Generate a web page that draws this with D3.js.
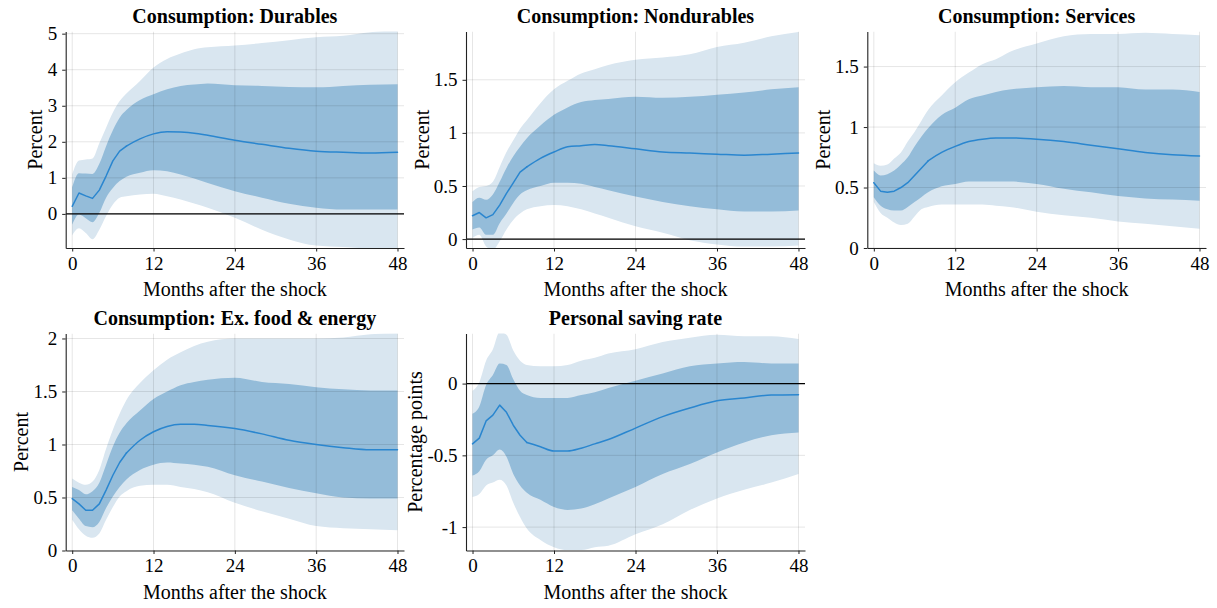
<!DOCTYPE html>
<html>
<head>
<meta charset="utf-8">
<script src="https://cdn.jsdelivr.net/npm/d3@7"></script>
<style>
  body { margin: 0; background: #fff; }
  svg text { font-family: "Liberation Serif", "DejaVu Serif", serif !important; fill: #000; }
</style>
</head>
<body>
<script>
var months = [0, 1, 2, 3, 4, 5, 6, 7, 8, 10, 12, 14, 16, 18, 20, 24, 28, 32, 36, 40, 44, 48];
var xTicks = [0, 12, 24, 36, 48];

// Consumption: Durables
var durMed = [0.21, 0.58, 0.50, 0.43, 0.66, 1.05, 1.47, 1.74, 1.88, 2.08, 2.22, 2.28, 2.27, 2.24, 2.18, 2.04, 1.93, 1.82, 1.74, 1.71, 1.69, 1.71];
var durHi1 = [0.74, 1.13, 1.12, 1.11, 1.39, 1.88, 2.32, 2.67, 2.88, 3.16, 3.32, 3.46, 3.55, 3.59, 3.62, 3.57, 3.55, 3.52, 3.51, 3.55, 3.58, 3.60];
var durLo1 = [-0.30, -0.02, -0.12, -0.23, 0.03, 0.45, 0.72, 0.91, 1.03, 1.14, 1.21, 1.18, 1.09, 0.98, 0.86, 0.63, 0.45, 0.28, 0.17, 0.12, 0.12, 0.12];
var durHi2 = [1.09, 1.48, 1.51, 1.54, 1.96, 2.39, 2.81, 3.13, 3.34, 3.69, 4.06, 4.30, 4.45, 4.57, 4.62, 4.67, 4.74, 4.82, 4.90, 4.94, 5.04, 5.10];
var durLo2 = [-0.60, -0.40, -0.53, -0.70, -0.44, -0.06, 0.26, 0.45, 0.49, 0.54, 0.56, 0.49, 0.40, 0.29, 0.17, -0.11, -0.44, -0.71, -0.88, -0.92, -0.96, -0.97];

// Consumption: Nondurables
var ndMed = [0.22, 0.25, 0.20, 0.23, 0.32, 0.43, 0.53, 0.63, 0.68, 0.76, 0.82, 0.87, 0.88, 0.89, 0.88, 0.85, 0.82, 0.81, 0.80, 0.79, 0.80, 0.81];
var ndHi1 = [0.35, 0.39, 0.37, 0.42, 0.54, 0.67, 0.78, 0.87, 0.95, 1.07, 1.17, 1.24, 1.29, 1.31, 1.32, 1.34, 1.33, 1.34, 1.36, 1.38, 1.41, 1.43];
var ndLo1 = [0.09, 0.11, 0.04, 0.04, 0.15, 0.24, 0.34, 0.42, 0.46, 0.50, 0.53, 0.53, 0.52, 0.49, 0.46, 0.40, 0.35, 0.31, 0.28, 0.26, 0.26, 0.27];
var ndHi2 = [0.45, 0.49, 0.50, 0.54, 0.68, 0.82, 0.93, 1.04, 1.12, 1.28, 1.41, 1.49, 1.56, 1.60, 1.64, 1.69, 1.71, 1.74, 1.81, 1.85, 1.91, 1.95];
var ndLo2 = [0.01, 0.04, -0.07, -0.10, -0.02, 0.09, 0.18, 0.24, 0.28, 0.31, 0.32, 0.31, 0.28, 0.24, 0.20, 0.12, 0.06, -0.01, -0.05, -0.07, -0.07, -0.06];

// Consumption: Services
var svMed = [0.54, 0.47, 0.46, 0.47, 0.50, 0.54, 0.60, 0.66, 0.72, 0.79, 0.84, 0.88, 0.90, 0.91, 0.91, 0.90, 0.88, 0.85, 0.82, 0.79, 0.77, 0.76];
var svHi1 = [0.64, 0.60, 0.61, 0.64, 0.69, 0.75, 0.84, 0.92, 0.99, 1.10, 1.16, 1.23, 1.26, 1.29, 1.31, 1.33, 1.34, 1.33, 1.33, 1.31, 1.31, 1.29];
var svLo1 = [0.42, 0.35, 0.32, 0.31, 0.31, 0.34, 0.38, 0.42, 0.46, 0.51, 0.53, 0.55, 0.55, 0.55, 0.55, 0.53, 0.49, 0.46, 0.43, 0.41, 0.40, 0.39];
var svHi2 = [0.70, 0.68, 0.69, 0.74, 0.79, 0.88, 0.96, 1.05, 1.14, 1.26, 1.37, 1.45, 1.52, 1.56, 1.62, 1.69, 1.75, 1.77, 1.77, 1.78, 1.77, 1.76];
var svLo2 = [0.38, 0.29, 0.25, 0.21, 0.19, 0.20, 0.26, 0.32, 0.34, 0.36, 0.36, 0.36, 0.36, 0.35, 0.34, 0.30, 0.27, 0.25, 0.22, 0.20, 0.18, 0.16];

// Consumption: Ex. food & energy
var exMed = [0.49, 0.44, 0.38, 0.38, 0.44, 0.57, 0.71, 0.83, 0.92, 1.04, 1.12, 1.17, 1.19, 1.19, 1.18, 1.15, 1.10, 1.04, 1.00, 0.97, 0.95, 0.95];
var exHi1 = [0.60, 0.57, 0.53, 0.56, 0.64, 0.81, 0.98, 1.11, 1.20, 1.32, 1.43, 1.50, 1.56, 1.59, 1.61, 1.63, 1.59, 1.57, 1.54, 1.52, 1.51, 1.51];
var exLo1 = [0.38, 0.30, 0.23, 0.22, 0.27, 0.40, 0.51, 0.60, 0.67, 0.76, 0.81, 0.83, 0.82, 0.81, 0.79, 0.71, 0.65, 0.59, 0.54, 0.50, 0.49, 0.49];
var exHi2 = [0.68, 0.64, 0.62, 0.65, 0.76, 0.96, 1.14, 1.29, 1.42, 1.58, 1.70, 1.80, 1.87, 1.93, 1.97, 2.00, 2.00, 2.00, 2.00, 2.01, 2.04, 2.05];
var exLo2 = [0.29, 0.20, 0.14, 0.12, 0.16, 0.29, 0.41, 0.51, 0.56, 0.61, 0.62, 0.62, 0.60, 0.58, 0.55, 0.45, 0.37, 0.30, 0.23, 0.21, 0.20, 0.19];

// Personal saving rate
var psMed = [-0.42, -0.38, -0.26, -0.22, -0.15, -0.20, -0.29, -0.36, -0.41, -0.44, -0.47, -0.47, -0.45, -0.42, -0.39, -0.31, -0.23, -0.17, -0.12, -0.10, -0.08, -0.077];
var psHi1 = [-0.21, -0.16, -0.01, 0.06, 0.14, 0.13, 0.03, -0.05, -0.08, -0.10, -0.10, -0.10, -0.08, -0.06, -0.03, 0.02, 0.07, 0.12, 0.14, 0.15, 0.14, 0.14];
var psLo1 = [-0.64, -0.61, -0.53, -0.50, -0.46, -0.51, -0.63, -0.71, -0.76, -0.81, -0.86, -0.88, -0.87, -0.84, -0.80, -0.72, -0.63, -0.56, -0.48, -0.41, -0.36, -0.34];
var psHi2 = [-0.05, 0.01, 0.16, 0.24, 0.36, 0.34, 0.23, 0.16, 0.13, 0.12, 0.12, 0.13, 0.16, 0.18, 0.21, 0.24, 0.29, 0.32, 0.34, 0.33, 0.33, 0.31];
var psLo2 = [-0.79, -0.77, -0.71, -0.69, -0.67, -0.71, -0.83, -0.93, -1.01, -1.09, -1.14, -1.16, -1.16, -1.14, -1.13, -1.05, -0.98, -0.88, -0.80, -0.74, -0.69, -0.63];

var panels = [
  {title: "Consumption: Durables", ylab: "Percent", ydom: [-0.946, 5.06], yticks: [0, 1, 2, 3, 4, 5],
   med: durMed, hi1: durHi1, lo1: durLo1, hi2: durHi2, lo2: durLo2, col: 0, row: 0},
  {title: "Consumption: Nondurables", ylab: "Percent", ydom: [-0.084, 1.955], yticks: [0, 0.5, 1, 1.5],
   med: ndMed, hi1: ndHi1, lo1: ndLo1, hi2: ndHi2, lo2: ndLo2, col: 1, row: 0},
  {title: "Consumption: Services", ylab: "Percent", ydom: [0, 1.79], yticks: [0, 0.5, 1, 1.5],
   med: svMed, hi1: svHi1, lo1: svLo1, hi2: svHi2, lo2: svLo2, col: 2, row: 0},
  {title: "Consumption: Ex. food & energy", ylab: "Percent", ydom: [0, 2.047], yticks: [0, 0.5, 1, 1.5, 2],
   med: exMed, hi1: exHi1, lo1: exLo1, hi2: exHi2, lo2: exLo2, col: 0, row: 1},
  {title: "Personal saving rate", ylab: "Percentage points", ydom: [-1.163, 0.349], yticks: [-1, -0.5, 0],
   med: psMed, hi1: psHi1, lo1: psLo1, hi2: psHi2, lo2: psLo2, col: 1, row: 1}
];

var width = 1217;
var height = 608;
var colLeft = [65.7, 466, 867.3];
var colRight = [404, 805, 1206];
var rowTop = [31.5, 333.5];
var rowBottom = [248, 550.5];
var serif = "Liberation Serif, DejaVu Serif, serif";
var splitAt = 8; // index in months: straight segments before, smooth after

var lightBand = "#d9e6f0";
var darkBand = "#94bcd9";
var lineColor = "#2a86cf";

var svg = d3.select("body").append("svg")
  .attr("width", width)
  .attr("height", height);

panels.forEach(function (p, k) {
  var L = colLeft[p.col], R = colRight[p.col];
  var T = rowTop[p.row], B = rowBottom[p.row];

  var x = d3.scaleLinear().domain([-0.96, 48.96]).range([L, R]);
  var y = d3.scaleLinear().domain(p.ydom).range([B, T]);

  var g = svg.append("g").attr("font-family", serif);

  g.append("clipPath").attr("id", "clip" + k)
    .append("rect").attr("x", L).attr("y", T).attr("width", R - L).attr("height", B - T);

  var plot = g.append("g").attr("clip-path", "url(#clip" + k + ")");

  var band = function (lo, hi) {
    return d3.area()
      .x(function (d, i) { return x(months[i]); })
      .y0(function (d, i) { return y(lo[i]); })
      .y1(function (d, i) { return y(hi[i]); })
      .curve(d3.curveMonotoneX)(months);
  };

  plot.append("path").attr("d", band(p.lo2, p.hi2)).attr("fill", lightBand);
  plot.append("path").attr("d", band(p.lo1, p.hi1)).attr("fill", darkBand);

  // grid on top of the bands
  plot.selectAll(".vgrid").data(xTicks).enter().append("line")
    .attr("x1", function (d) { return x(d); }).attr("x2", function (d) { return x(d); })
    .attr("y1", T).attr("y2", B)
    .attr("stroke", "#000").attr("stroke-opacity", 0.1).attr("stroke-width", 1);
  plot.selectAll(".hgrid").data(p.yticks).enter().append("line")
    .attr("x1", L).attr("x2", R)
    .attr("y1", function (d) { return y(d); }).attr("y2", function (d) { return y(d); })
    .attr("stroke", "#000").attr("stroke-opacity", 0.1).attr("stroke-width", 1);

  if (p.ydom[0] < 0 && p.ydom[1] > 0) {
    plot.append("line")
      .attr("x1", L).attr("x2", R).attr("y1", y(0)).attr("y2", y(0))
      .attr("stroke", "#000").attr("stroke-width", 1.1);
  }

  var pts = p.med.map(function (v, i) { return [months[i], v]; });
  var head = pts.slice(0, splitAt + 1);
  var tail = pts.slice(splitAt);
  [[head, d3.curveLinear], [tail, d3.curveMonotoneX]].forEach(function (seg) {
    plot.append("path")
      .attr("d", d3.line()
        .x(function (d) { return x(d[0]); })
        .y(function (d) { return y(d[1]); })
        .curve(seg[1])(seg[0]))
      .attr("fill", "none").attr("stroke", lineColor).attr("stroke-width", 1.5)
      .attr("stroke-linejoin", "round").attr("stroke-linecap", "round");
  });

  var fmt = function (v) { return String(v); };

  var ya = g.append("g").attr("transform", "translate(" + L + ",0)")
    .call(d3.axisLeft(y).tickValues(p.yticks).tickFormat(fmt).tickSize(3.5).tickSizeOuter(0).tickPadding(5));
  var xa = g.append("g").attr("transform", "translate(0," + B + ")")
    .call(d3.axisBottom(x).tickValues(xTicks).tickSize(3.5).tickSizeOuter(0).tickPadding(5));

  [ya, xa].forEach(function (a) {
    a.attr("font-family", serif).attr("font-size", 19);
    a.select(".domain").attr("stroke", "#222").attr("stroke-width", 1.1);
    a.selectAll(".tick line").attr("stroke", "#222");
    a.selectAll(".tick text").attr("fill", "#000");
  });

  var maxW = 0;
  ya.selectAll(".tick text").each(function () { maxW = Math.max(maxW, this.getBBox().width); });

  g.append("text")
    .attr("transform", "translate(" + (L - 3.5 - 5 - maxW - 5) + "," + ((T + B) / 2) + ") rotate(-90)")
    .attr("text-anchor", "middle")
    .attr("font-size", 20)
    .text(p.ylab);

  g.append("text")
    .attr("x", (L + R) / 2).attr("y", B + 48)
    .attr("text-anchor", "middle")
    .attr("font-size", 20)
    .text("Months after the shock");

  g.append("text")
    .attr("x", (L + R) / 2).attr("y", T - 9)
    .attr("text-anchor", "middle")
    .attr("font-size", 20).attr("font-weight", "bold")
    .text(p.title);
});
</script>
</body>
</html>
